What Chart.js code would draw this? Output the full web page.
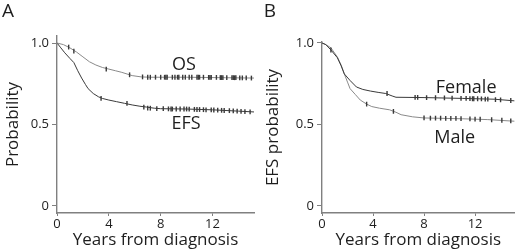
<!DOCTYPE html>
<html>
<head>
<meta charset="utf-8">
<script src="https://cdn.jsdelivr.net/npm/chart.js@4.4.1/dist/chart.umd.min.js"></script>
<style>
  html, body { margin: 0; padding: 0; background: #fff; overflow: hidden; }
  .wrap { position: absolute; top: 0; width: 260px; height: 252px; }
  #wa { left: 0; }
  #wb { left: 260px; }
</style>
</head>
<body>
<div class="wrap" id="wa"><canvas id="ca" width="260" height="252"></canvas></div>
<div class="wrap" id="wb"><canvas id="cb" width="260" height="252"></canvas></div>
<script>
// ---------- Data ----------
const xTickValues = [0, 4, 8, 12];
const yTickValues = [0, 0.5, 1.0];

// Panel A: overall survival (OS) and event-free survival (EFS)
const osTimes = [0, 0.5, 1.0, 1.5, 2.0, 2.5, 3.0, 3.5, 4.0, 4.5, 5.0, 5.8, 6.5, 7.2, 10.0, 13.0, 15.2];
const osSurv  = [1.0, 0.99, 0.97, 0.945, 0.915, 0.885, 0.865, 0.85, 0.84, 0.83, 0.82, 0.80, 0.792, 0.79, 0.79, 0.787, 0.785];
const efsTimes = [0, 0.3, 0.6, 1.0, 1.3, 1.6, 1.9, 2.2, 2.4, 2.8, 3.2, 3.5, 4.0, 4.6, 5.2, 5.8, 6.4, 6.9, 7.5, 8.0, 10.0, 12.0, 14.0, 15.2];
const efsSurv  = [1.0, 0.97, 0.94, 0.905, 0.88, 0.83, 0.785, 0.745, 0.72, 0.69, 0.67, 0.66, 0.65, 0.64, 0.63, 0.62, 0.612, 0.607, 0.60, 0.597, 0.595, 0.59, 0.582, 0.577];

const osCensorT = [0.9, 1.3, 3.8, 5.6, 6.6, 7.0, 7.2, 7.6, 8.0, 8.3, 8.4, 8.5, 8.9, 9.1, 9.3, 9.4, 9.7, 9.9, 10.2, 10.4, 10.8, 10.9, 11.0, 11.3, 11.7, 11.8, 11.9, 12.3, 12.6, 12.7, 12.8, 13.1, 13.5, 13.6, 13.7, 13.8, 14.1, 14.3, 14.6, 15.0];
const osCensorS = [0.975, 0.95, 0.84, 0.805, 0.792, 0.79, 0.79, 0.79, 0.79, 0.79, 0.79, 0.79, 0.79, 0.79, 0.79, 0.79, 0.79, 0.79, 0.79, 0.79, 0.79, 0.79, 0.79, 0.79, 0.789, 0.789, 0.789, 0.789, 0.788, 0.788, 0.788, 0.788, 0.787, 0.787, 0.787, 0.787, 0.786, 0.786, 0.786, 0.785];
const efsCensorT = [3.4, 5.4, 6.7, 7.0, 7.2, 7.7, 8.2, 8.6, 8.8, 8.9, 9.2, 9.5, 9.8, 10.0, 10.2, 10.6, 10.8, 11.0, 11.3, 11.5, 11.9, 12.1, 12.4, 12.7, 12.9, 13.3, 13.6, 13.9, 14.2, 14.5, 14.9];
const efsCensorS = [0.66, 0.63, 0.607, 0.60, 0.60, 0.598, 0.597, 0.596, 0.595, 0.595, 0.595, 0.595, 0.595, 0.595, 0.594, 0.593, 0.592, 0.592, 0.591, 0.59, 0.59, 0.589, 0.588, 0.587, 0.586, 0.585, 0.584, 0.582, 0.58, 0.579, 0.578];

// Panel B: EFS by sex
const femaleTimes = [0, 0.3, 0.7, 1.2, 1.5, 1.75, 2.2, 2.7, 3.2, 3.8, 4.4, 5.0, 5.5, 5.8, 8.0, 11.0, 13.5, 15.1];
const femaleSurv  = [1.0, 0.99, 0.957, 0.91, 0.86, 0.81, 0.77, 0.73, 0.715, 0.705, 0.697, 0.69, 0.675, 0.667, 0.665, 0.66, 0.655, 0.645];
const maleTimes = [0, 0.3, 0.7, 1.2, 1.5, 1.75, 2.0, 2.2, 2.6, 3.0, 3.5, 3.9, 4.5, 5.3, 5.8, 6.2, 7.1, 8.0, 11.0, 13.0, 15.1];
const maleSurv  = [1.0, 0.99, 0.97, 0.915, 0.865, 0.81, 0.76, 0.72, 0.685, 0.65, 0.625, 0.61, 0.60, 0.59, 0.575, 0.56, 0.547, 0.54, 0.535, 0.53, 0.52];

const femaleCensorT = [0.7, 5.1, 7.3, 7.5, 8.2, 8.9, 9.6, 10.2, 10.9, 11.3, 11.6, 11.8, 11.9, 12.2, 12.5, 12.8, 13.0, 13.6, 14.0, 14.8];
const femaleCensorS = [0.957, 0.69, 0.666, 0.666, 0.665, 0.664, 0.663, 0.662, 0.66, 0.66, 0.659, 0.658, 0.658, 0.658, 0.657, 0.656, 0.655, 0.653, 0.651, 0.647];
const maleCensorT = [3.5, 5.6, 8.0, 8.5, 8.9, 9.3, 9.7, 10.1, 10.5, 10.9, 11.6, 12.0, 12.4, 13.3, 14.1, 14.8];
const maleCensorS = [0.625, 0.58, 0.54, 0.539, 0.539, 0.539, 0.538, 0.538, 0.537, 0.536, 0.534, 0.533, 0.532, 0.529, 0.526, 0.522];

// ---------- Helpers ----------
const FONT = "'Open Sans', 'Noto Sans', sans-serif";
const AXIS = '#808080';
const TEXT = '#1e1e1e';
const DARK = '#3a3a3a';
const LIGHT = '#8a8a8a';

function pts(t, s) { return t.map((v, i) => ({ x: v, y: s[i] })); }

function curve(label, t, s, color) {
  return { type: 'line', label, data: pts(t, s), borderColor: color, borderWidth: 1,
           pointRadius: 0, tension: 0, fill: false, order: 2 };
}
function censor(label, t, s, color) {
  return { type: 'scatter', label, data: pts(t, s), borderColor: color, backgroundColor: color,
           pointStyle: 'line', rotation: 90, pointRadius: 2.4, borderWidth: 1.4, order: 1 };
}

const annotate = {
  id: 'annotate',
  afterDraw(chart, args, opts) {
    const ctx = chart.ctx;
    ctx.save();
    ctx.fillStyle = TEXT;
    ctx.textAlign = 'center';
    ctx.textBaseline = 'middle';
    ctx.font = '19px ' + FONT;
    ctx.fillText(opts.panel, opts.panelX, opts.panelY);
    ctx.font = '18px ' + FONT;
    const xs = chart.scales.x, ys = chart.scales.y;
    (opts.labels || []).forEach(l => {
      ctx.fillText(l.text, xs.getPixelForValue(l.x), ys.getPixelForValue(l.y));
    });
    ctx.restore();
  }
};

function makeChart(id, datasets, cfg) {
  return new Chart(document.getElementById(id), {
    data: { datasets },
    options: {
      responsive: false,
      animation: false,
      events: [],
      layout: { padding: { left: 0, right: cfg.padRight, top: cfg.padTop, bottom: 0 } },
      plugins: {
        legend: { display: false },
        tooltip: { enabled: false },
        annotate: { panel: cfg.panel, panelX: cfg.panelX, panelY: 12, labels: cfg.labels }
      },
      scales: {
        x: {
          type: 'linear', min: 0, max: cfg.xMax,
          afterBuildTicks: s => { s.ticks = xTickValues.map(v => ({ value: v })); },
          afterFit: s => { s.height = 39; },
          grid: { drawOnChartArea: false, drawTicks: true, tickLength: 3, color: AXIS, lineWidth: 1 },
          border: { display: true, color: AXIS, width: 1.4 },
          ticks: { color: TEXT, font: { family: FONT, size: 13 }, padding: 0, maxRotation: 0 },
          title: { display: true, text: 'Years from diagnosis', color: TEXT,
                   font: { family: FONT, size: 17 }, padding: { top: 0, bottom: 2 } }
        },
        y: {
          type: 'linear', min: -0.043, max: cfg.yMax,
          afterBuildTicks: s => { s.ticks = yTickValues.map(v => ({ value: v })); },
          afterFit: s => { s.width = cfg.yWidth; },
          grid: { drawOnChartArea: false, drawTicks: true, tickLength: 5, color: AXIS, lineWidth: 1 },
          border: { display: true, color: AXIS, width: 1.4 },
          ticks: { color: TEXT, font: { family: FONT, size: 13 }, padding: 3,
                   callback: v => (v === 0 ? '0' : v.toFixed(1)) },
          title: { display: true, text: cfg.yTitle, color: TEXT,
                   font: { family: FONT, size: 17 }, padding: { top: 3, bottom: 0 } }
        }
      }
    },
    plugins: [annotate]
  });
}

makeChart('ca', [
  curve('OS', osTimes, osSurv, LIGHT),
  curve('EFS', efsTimes, efsSurv, DARK),
  censor('OS censored', osCensorT, osCensorS, DARK),
  censor('EFS censored', efsCensorT, efsCensorS, DARK)
], {
  panel: 'A', panelX: 8, padRight: 6, padTop: 36, yWidth: 57, xMax: 15.2, yMax: 1.043,
  yTitle: 'Probability',
  labels: [ { text: 'OS', x: 9.8, y: 0.868 }, { text: 'EFS', x: 9.95, y: 0.503 } ]
});

makeChart('cb', [
  curve('Female', femaleTimes, femaleSurv, DARK),
  curve('Male', maleTimes, maleSurv, LIGHT),
  censor('Female censored', femaleCensorT, femaleCensorS, DARK),
  censor('Male censored', maleCensorT, maleCensorS, DARK)
], {
  panel: 'B', panelX: 10, padRight: 0, padTop: 42, yWidth: 62, xMax: 15.1, yMax: 1.006,
  yTitle: 'EFS probability',
  labels: [ { text: 'Female', x: 11.3, y: 0.724 }, { text: 'Male', x: 10.4, y: 0.42 } ]
});
</script>
</body>
</html>
